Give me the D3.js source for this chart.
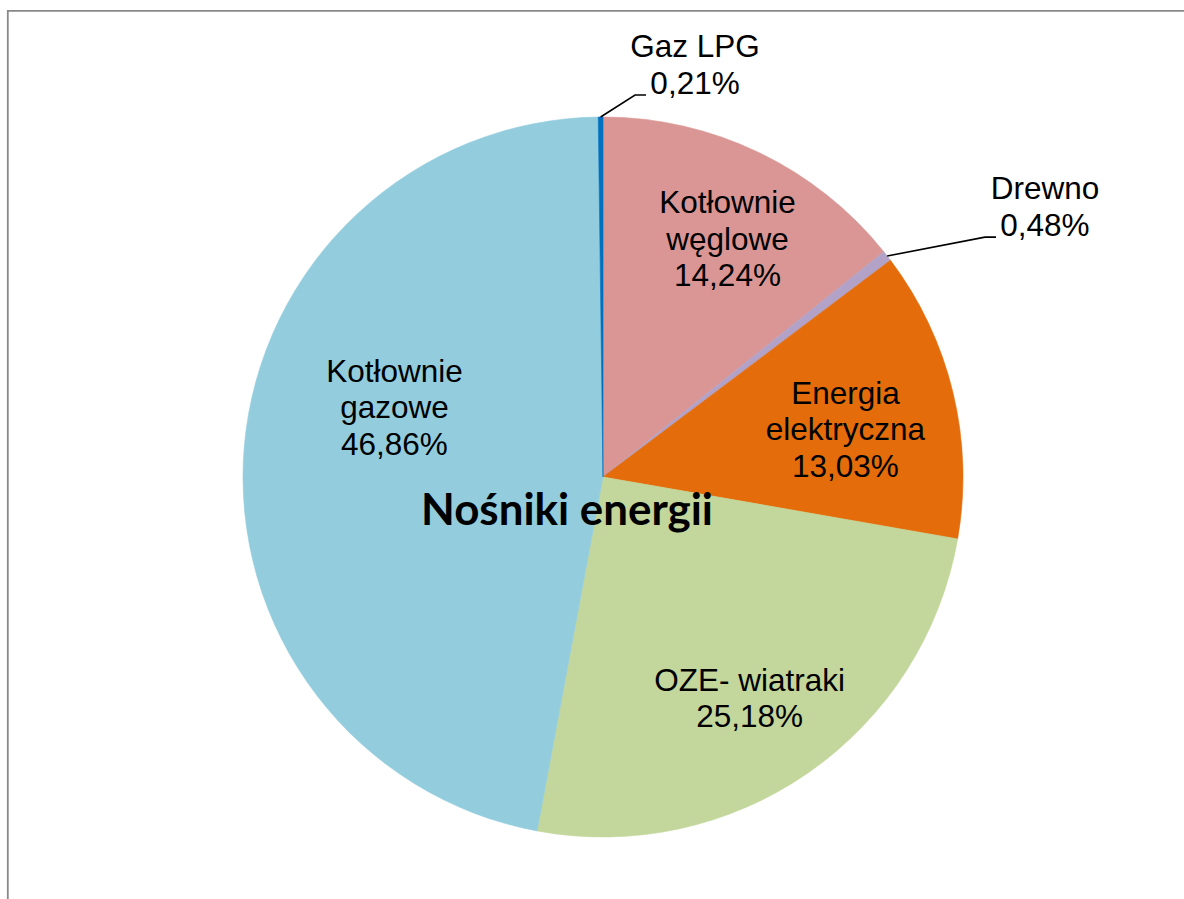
<!DOCTYPE html>
<html>
<head>
<meta charset="utf-8">
<script src="https://cdn.jsdelivr.net/npm/d3@7"></script>
<style>
  html, body { margin: 0; padding: 0; background: #fff; }
  svg { display: block; }
</style>
</head>
<body>
<svg id="chart" width="1184" height="899"></svg>
<script>
// ---- data ----
const categories = ["Kotłownie węglowe", "Drewno", "Energia elektryczna", "OZE- wiatraki", "Kotłownie gazowe", "Gaz LPG"];
const values = [14.24, 0.48, 13.03, 25.18, 46.86, 0.21];
const labelLines = [["Kotłownie", "węglowe"], ["Drewno"], ["Energia", "elektryczna"], ["OZE- wiatraki"], ["Kotłownie", "gazowe"], ["Gaz LPG"]];
const valueLabels = ["14,24%", "0,48%", "13,03%", "25,18%", "46,86%", "0,21%"];
const title = "Nośniki energii";

// ---- style / layout ----
const colors = ["#D99694", "#B3A2C7", "#E46C0A", "#C3D69B", "#93CDDD", "#0070C0"];
const W = 1184, H = 899;
const cx = 603, cy = 477, R = 360;
const fontSize = 31.5, lineH = 36.5;
// placement: inside labels nudge from centroid at 0.7R; outside labels use a leader elbow offset
const placement = {
  "Kotłownie węglowe": { type: "in", nx: 15.5, ny: 0 },
  "Energia elektryczna": { type: "in", nx: -2.5, ny: 22.5 },
  "OZE- wiatraki": { type: "in", nx: 3, ny: 25 },
  "Kotłownie gazowe": { type: "in", nx: 42.5, ny: -37.5 },
  "Drewno": { type: "out", ex: 97.8, ey: -18.9 },
  "Gaz LPG": { type: "out", ex: 34.4, ey: -22 }
};

const svg = d3.select("#chart");

// frame
svg.append("path")
  .attr("d", `M7.8,${H + 5} L7.8,10.8 L${W + 5},10.8`)
  .attr("fill", "none")
  .attr("stroke", "#898989")
  .attr("stroke-width", 1.8);

const g = svg.append("g").attr("transform", `translate(${cx},${cy})`);

const pie = d3.pie().sort(null).value(d => d).startAngle(0).endAngle(2 * Math.PI);
const arcs = pie(values);
const arc = d3.arc().innerRadius(0).outerRadius(R);
const labelArc = d3.arc().innerRadius(R * 0.7).outerRadius(R * 0.7);
const edgeArc = d3.arc().innerRadius(R).outerRadius(R);

g.selectAll("path.slice")
  .data(arcs)
  .join("path")
  .attr("class", "slice")
  .attr("d", arc)
  .attr("fill", (d, i) => colors[i])
  .attr("stroke", (d, i) => colors[i])
  .attr("stroke-width", 0.6);

// title
const t = g.append("text")
  .attr("x", 567 - cx)
  .attr("y", 525 - cy)
  .attr("text-anchor", "middle")
  .attr("font-family", "Lato, 'Open Sans', sans-serif")
  .attr("font-weight", "bold")
  .attr("font-size", 40)
  .attr("fill", "#000")
  .text(title);
const tw = t.node().getComputedTextLength();
if (tw > 0) t.attr("font-size", 40 * 292 / tw);

// labels
arcs.forEach((d, i) => {
  const name = categories[i];
  const p = placement[name];
  const lines = labelLines[i].concat([valueLabels[i]]);
  const txt = g.append("text")
    .attr("font-family", "'Liberation Sans', Arial, sans-serif")
    .attr("font-size", fontSize)
    .attr("fill", "#000")
    .attr("text-anchor", "middle");
  if (p.type === "in") {
    const [lx, ly] = labelArc.centroid(d);
    const ax = lx + p.nx, ay = ly + p.ny;
    const n = lines.length;
    lines.forEach((s, k) => {
      txt.append("tspan")
        .attr("x", ax)
        .attr("y", ay + (k - (n - 1) / 2) * lineH)
        .text(s);
    });
  } else {
    const [px, py] = edgeArc.centroid(d);
    const exx = px + p.ex, eyy = py + p.ey;
    const endx = exx + 11;
    g.append("path")
      .attr("d", `M${px},${py} L${exx},${eyy} L${endx},${eyy}`)
      .attr("fill", "none")
      .attr("stroke", "#000")
      .attr("stroke-width", 1.6);
    const tx = endx + 49;
    const baseY = eyy - 1.5;
    const n = lines.length;
    lines.forEach((s, k) => {
      txt.append("tspan")
        .attr("x", tx)
        .attr("y", baseY - (n - 1 - k) * lineH)
        .text(s);
    });
  }
});
</script>
</body>
</html>
